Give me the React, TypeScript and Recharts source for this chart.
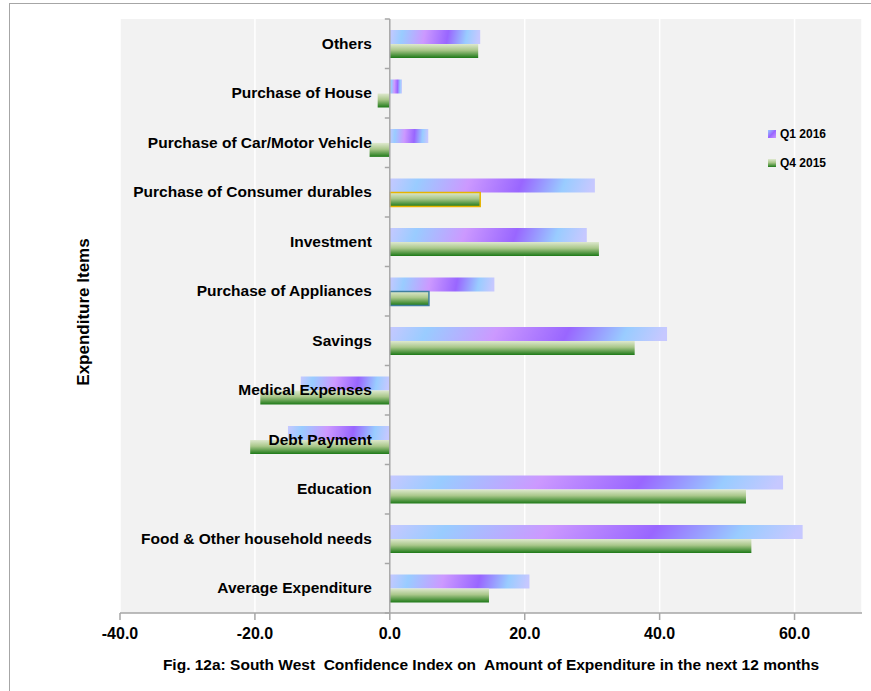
import React from 'react';
import { BarChart, Bar, XAxis, YAxis, CartesianGrid, ReferenceLine, Cell } from 'recharts';

const categories = [
  'Others',
  'Purchase of House',
  'Purchase of Car/Motor Vehicle',
  'Purchase of Consumer durables',
  'Investment',
  'Purchase of Appliances',
  'Savings',
  'Medical Expenses',
  'Debt Payment',
  'Education',
  'Food & Other household needs',
  'Average Expenditure',
];
const q1_2016 = [13.4, 1.8, 5.7, 30.4, 29.2, 15.5, 41.1, -13.2, -15.1, 58.3, 61.2, 20.7];
const q4_2015 = [13.1, -1.8, -3.0, 13.4, 31.0, 5.8, 36.3, -19.2, -20.7, 52.8, 53.6, 14.7];
const xTicks = [-40, -20, 0, 20, 40, 60];
const xDomain = [-40, 70];

const data = categories.map((item, i) => ({ item, q1: q1_2016[i], q4: q4_2015[i] }));

const W = 871;
const H = 691;
const PLOT_LEFT = 120;
const PLOT_TOP = 19;
const PLOT_RIGHT = 862;
const PLOT_BOTTOM = 613;
const BAND = (PLOT_BOTTOM - PLOT_TOP) / categories.length;
const ZERO_X = PLOT_LEFT + ((0 - xDomain[0]) / (xDomain[1] - xDomain[0])) * (PLOT_RIGHT - PLOT_LEFT);
const FONT = '"Liberation Sans", Arial, sans-serif';
const AXIS = '#a6a6a6';

function CategoryTick(props: any) {
  const { y, payload, index } = props;
  const last = index === categories.length - 1;
  return (
    <g>
      <line x1={ZERO_X - 5} x2={ZERO_X} y1={y - BAND / 2} y2={y - BAND / 2} stroke={AXIS} strokeWidth={1.5} />
      {last && <line x1={ZERO_X - 5} x2={ZERO_X} y1={y + BAND / 2} y2={y + BAND / 2} stroke={AXIS} strokeWidth={1.5} />}
      <text x={ZERO_X - 18} y={y} dy={5} textAnchor="end" fontFamily={FONT} fontWeight="bold" fontSize={15.5} fill="#000">
        {payload.value}
      </text>
    </g>
  );
}

export default function App() {
  return (
    <div style={{ position: 'absolute', left: 0, top: 0, width: W, height: H, overflow: 'hidden', background: '#fff' }}>
      <div
        style={{
          position: 'absolute',
          left: 9,
          top: 3,
          width: 1000,
          height: 800,
          border: '1.5px solid #a6a6a6',
          boxSizing: 'border-box',
        }}
      />
      <BarChart
        width={W}
        height={H}
        data={data}
        layout="vertical"
        barCategoryGap="22%"
        barGap={0}
        margin={{ top: PLOT_TOP, right: W - PLOT_RIGHT, bottom: 48, left: 0 }}
        style={{ position: 'absolute', left: 0, top: 0 }}
      >
        <defs>
          <linearGradient id="gQ1" x1="0" y1="0" x2="1" y2="0.025">
            <stop offset="0" stopColor="#c6c8ff" />
            <stop offset="0.14" stopColor="#99ccff" />
            <stop offset="0.39" stopColor="#cc99ff" />
            <stop offset="0.65" stopColor="#9966ff" />
            <stop offset="0.86" stopColor="#99ccff" />
            <stop offset="1" stopColor="#c6c8ff" />
          </linearGradient>
          <linearGradient id="gQ4" x1="0" y1="0" x2="0" y2="1">
            <stop offset="0" stopColor="#dfe9cf" />
            <stop offset="0.45" stopColor="#a9c78a" />
            <stop offset="1" stopColor="#1f7a19" />
          </linearGradient>
        </defs>
        <CartesianGrid horizontal={false} vertical stroke="#ffffff" strokeWidth={1.5} fill="#f2f2f2" />
        <XAxis
          type="number"
          domain={xDomain}
          ticks={xTicks}
          allowDataOverflow
          tickFormatter={(v: number) => v.toFixed(1)}
          tick={{ fill: '#000', fontSize: 16, fontWeight: 'bold', fontFamily: FONT }}
          tickSize={7}
          tickMargin={8}
          tickLine={{ stroke: AXIS, strokeWidth: 1.5 }}
          axisLine={{ stroke: AXIS, strokeWidth: 1.5 }}
          height={30}
          label={{
            value: 'Fig. 12a: South West\u00a0 Confidence Index on\u00a0 Amount of Expenditure in the next 12 months',
            position: 'bottom',
            offset: 16,
            fill: '#000',
            fontSize: 15.5,
            fontWeight: 'bold',
            fontFamily: FONT,
          }}
        />
        <YAxis
          type="category"
          dataKey="item"
          width={PLOT_LEFT}
          axisLine={false}
          tickLine={false}
          interval={0}
          tick={<CategoryTick />}
          label={{
            value: 'Expenditure Items',
            angle: -90,
            position: 'center',
            dx: 23,
            dy: -4,
            fill: '#000',
            fontSize: 17,
            fontWeight: 'bold',
            fontFamily: FONT,
          }}
        />
        <Bar dataKey="q1" name="Q1 2016" fill="url(#gQ1)" isAnimationActive={false} />
        <Bar dataKey="q4" name="Q4 2015" fill="url(#gQ4)" isAnimationActive={false}>
          {data.map((d, i) => (
            <Cell
              key={d.item}
              fill="url(#gQ4)"
              stroke={i === 3 ? '#e6b400' : i === 5 ? '#3f7f9f' : 'none'}
              strokeWidth={i === 3 || i === 5 ? 1.5 : 0}
            />
          ))}
        </Bar>
        <ReferenceLine x={0} stroke={AXIS} strokeWidth={1.5} />
      </BarChart>
      <div style={{ position: 'absolute', left: 768, top: 126, fontFamily: FONT, fontWeight: 'bold', fontSize: 12, color: '#000' }}>
        <div style={{ display: 'flex', alignItems: 'center', height: 16 }}>
          <span
            style={{
              width: 8,
              height: 8,
              marginRight: 4,
              background: 'linear-gradient(135deg, #99ccff 0%, #9966ff 50%, #cc99ff 100%)',
            }}
          />
          Q1 2016
        </div>
        <div style={{ display: 'flex', alignItems: 'center', height: 16, marginTop: 13 }}>
          <span
            style={{
              width: 8,
              height: 8,
              marginRight: 4,
              background: 'linear-gradient(180deg, #dfe9cf 0%, #a9c78a 45%, #1f7a19 100%)',
            }}
          />
          Q4 2015
        </div>
      </div>
    </div>
  );
}
